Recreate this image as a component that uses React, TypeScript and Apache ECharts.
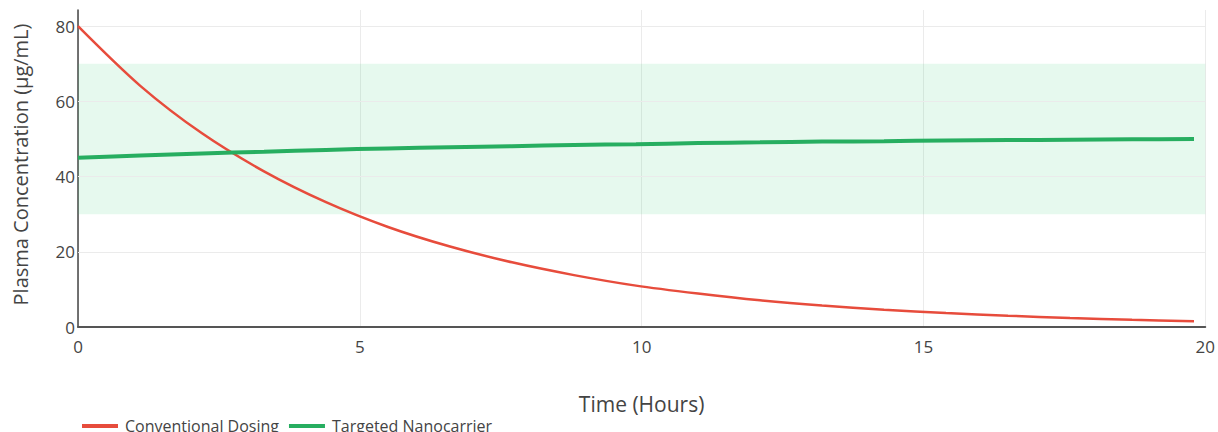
import React, { useEffect, useRef } from "react";
import * as echarts from "echarts";

const hours = [0, 1.1, 2.2, 3.3, 4.4, 5.5, 6.6, 7.7, 8.8, 9.9, 11, 12.1, 13.2, 14.3, 15.4, 16.5, 17.6, 18.7, 19.8];
const conventional = [80, 64.2, 51.5, 41.4, 33.2, 26.6, 21.4, 17.2, 13.8, 11.0, 8.9, 7.1, 5.7, 4.6, 3.7, 3.0, 2.4, 1.9, 1.5];
const nanocarrier = [45.0, 45.6, 46.15, 46.6, 47.1, 47.5, 47.8, 48.1, 48.4, 48.6, 48.9, 49.1, 49.3, 49.4, 49.6, 49.7, 49.8, 49.9, 50.0];
const yTicks = [0, 20, 40, 60, 80];
const xTicks = [0, 5, 10, 15, 20];
const therapeuticWindow = [30, 70];
const seriesNames = ["Conventional Dosing", "Targeted Nanocarrier"];

export default function App() {
  const ref = useRef<HTMLDivElement>(null);
  useEffect(() => {
    if (!ref.current) return;
    const chart = echarts.init(ref.current, null, { renderer: "svg" });
    const font = "'Open Sans', 'Noto Sans', sans-serif";
    chart.setOption({
      animation: false,
      textStyle: { fontFamily: font },
      grid: { left: 78, right: 12, top: 10, bottom: 105, containLabel: false },
      legend: {
        data: seriesNames,
        left: 77,
        top: 413,
        icon: "rect",
        itemWidth: 36,
        itemHeight: 4,
        itemGap: 10,
        textStyle: { fontSize: 16, color: "#444", fontFamily: font, padding: [0, 0, 0, 2] },
      },
      xAxis: {
        type: "value",
        min: 0,
        max: 20,
        interval: 5,
        name: "Time (Hours)",
        nameLocation: "middle",
        nameGap: 66,
        nameTextStyle: { fontSize: 21, color: "#444", fontFamily: font },
        axisLine: { show: true, onZero: false, lineStyle: { color: "#555", width: 2 } },
        axisTick: { show: false },
        axisLabel: { fontSize: 17, color: "#444", margin: 11, customValues: xTicks },
        splitLine: { show: true, lineStyle: { color: "#ebebeb", width: 1 } },
      },
      yAxis: {
        type: "value",
        min: 0,
        max: 84.3,
        name: "Plasma Concentration (μg/mL)",
        nameLocation: "middle",
        nameGap: 48,
        nameTextStyle: { fontSize: 20, color: "#444", fontFamily: font, padding: [0, 0, 0, 8] },
        axisLine: { show: true, lineStyle: { color: "#444", width: 1.5 } },
        axisTick: { show: false },
        axisLabel: { fontSize: 17, color: "#444", margin: 3, customValues: yTicks },
        splitLine: { show: false },
      },
      series: [
        {
          name: "bands",
          type: "line",
          data: [],
          z: 1,
          silent: true,
          markArea: {
            silent: true,
            z: 1,
            itemStyle: { color: "rgba(46,204,113,0.12)" },
            data: [[{ yAxis: therapeuticWindow[0], xAxis: 0 }, { yAxis: therapeuticWindow[1], xAxis: 20 }]],
          },
          markLine: {
            silent: true,
            z: 1,
            symbol: "none",
            label: { show: false },
            lineStyle: { color: "#ebebeb", width: 1, type: "solid" },
            data: yTicks.filter((v) => v > 0).map((v) => ({ yAxis: v })),
          },
        },
        {
          name: seriesNames[0],
          type: "line",
          data: hours.map((h, i) => [h, conventional[i]]),
          showSymbol: false,
          symbol: "none",
          smooth: 0.3,
          lineStyle: { color: "#e74c3c", width: 2.5 },
          itemStyle: { color: "#e74c3c" },
          z: 6,
        },
        {
          name: seriesNames[1],
          type: "line",
          data: hours.map((h, i) => [h, nanocarrier[i]]),
          showSymbol: false,
          symbol: "none",
          smooth: 0.3,
          lineStyle: { color: "#27ae60", width: 4 },
          itemStyle: { color: "#27ae60" },
          z: 7,
        },
      ],
    });
    return () => chart.dispose();
  }, []);
  return <div ref={ref} style={{ width: 1218, height: 432, position: "absolute", left: 0, top: 0 }} />;
}
